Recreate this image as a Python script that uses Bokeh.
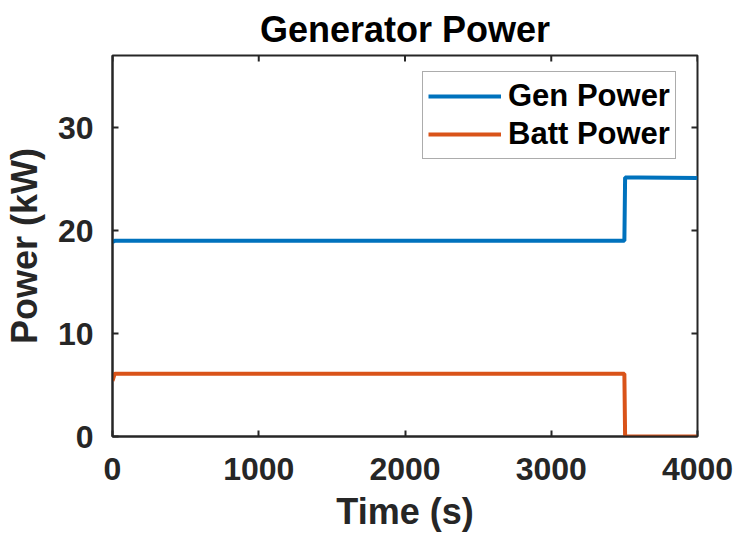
import math
from bokeh.plotting import figure
from bokeh.models import Range1d, FixedTicker, Legend, LegendItem
from bokeh.embed import file_html
from bokeh.resources import INLINE

# Data
time_s = [0, 15, 3500, 3505, 3600, 4000]
gen_power = [18.9, 19.0, 19.0, 25.15, 25.15, 25.1]
batt_power = [5.4, 6.1, 6.1, 0.0, 0.0, 0.0]
x_ticks = [0, 1000, 2000, 3000, 4000]
y_ticks = [0, 10, 20, 30]
x_lim = (0, 4000)
y_lim = (0, 37)

title_text = "Generator Power"
x_label = "Time (s)"
y_label = "Power (kW)"
series_names = ["Gen Power", "Batt Power"]
series_colors = ["#0072BD", "#D95319"]

FONT = "Liberation Sans"
AX = "#262626"

p = figure(frame_width=585, frame_height=381,
           min_border_left=111, min_border_right=42,
           min_border_top=54, min_border_bottom=99,
           x_range=Range1d(*x_lim), y_range=Range1d(*y_lim),
           output_backend="svg", toolbar_location=None,
           background_fill_color="white", border_fill_color="white")

p.title.text = title_text
p.title.text_font = FONT
p.title.text_font_style = "bold"
p.title.text_font_size = "36px"
p.title.text_color = "black"
p.title.align = "center"
p.title.standoff = 12
p.grid.visible = False
p.outline_line_color = AX
p.outline_line_width = 2

def style_axis(ax):
    ax.axis_line_color = AX
    ax.axis_line_width = 2
    ax.major_tick_line_color = AX
    ax.major_tick_line_width = 2
    ax.major_tick_in = 6
    ax.major_tick_out = 0
    ax.minor_tick_line_color = None
    ax.major_label_text_font = FONT
    ax.major_label_text_font_style = "bold"
    ax.major_label_text_color = AX
    ax.major_label_text_font_size = "32px"
    ax.axis_label_text_font = FONT
    ax.axis_label_text_font_style = "bold"
    ax.axis_label_text_font_size = "36px"
    ax.axis_label_text_color = AX

p.xaxis.ticker = FixedTicker(ticks=x_ticks)
p.yaxis.ticker = FixedTicker(ticks=y_ticks)
p.xaxis.axis_label = x_label
p.yaxis.axis_label = y_label
style_axis(p.xaxis[0])
style_axis(p.yaxis[0])
p.xaxis.major_label_standoff = 21
p.yaxis.major_label_standoff = 19
p.xaxis.axis_label_standoff = 8
p.yaxis.axis_label_standoff = 10

# inward tick marks on the top and right edges of the box
p.scatter(x=x_ticks, y=[y_lim[1]] * len(x_ticks), marker="dash", angle=math.pi / 2,
          size=12, line_color=AX, line_width=2)
p.scatter(x=[x_lim[1]] * len(y_ticks), y=y_ticks, marker="dash",
          size=12, line_color=AX, line_width=2)

r_gen = p.line(time_s, gen_power, line_color=series_colors[0], line_width=4)
r_batt = p.line(time_s, batt_power, line_color=series_colors[1], line_width=4)

legend = Legend(items=[LegendItem(label=series_names[0], renderers=[r_gen]),
                       LegendItem(label=series_names[1], renderers=[r_batt])],
                location=(310, 277))
legend.label_text_font = FONT
legend.label_text_font_style = "bold"
legend.label_text_font_size = "31px"
legend.label_text_color = "black"
legend.glyph_width = 73
legend.glyph_height = 38
legend.label_height = 38
legend.label_standoff = 7
legend.padding = 5
legend.spacing = 0
legend.margin = 0
legend.border_line_color = "#595959"
legend.border_line_width = 1
legend.background_fill_color = "white"
legend.background_fill_alpha = 1
p.add_layout(legend, "center")

open("out.html", "w").write(file_html(p, INLINE))
